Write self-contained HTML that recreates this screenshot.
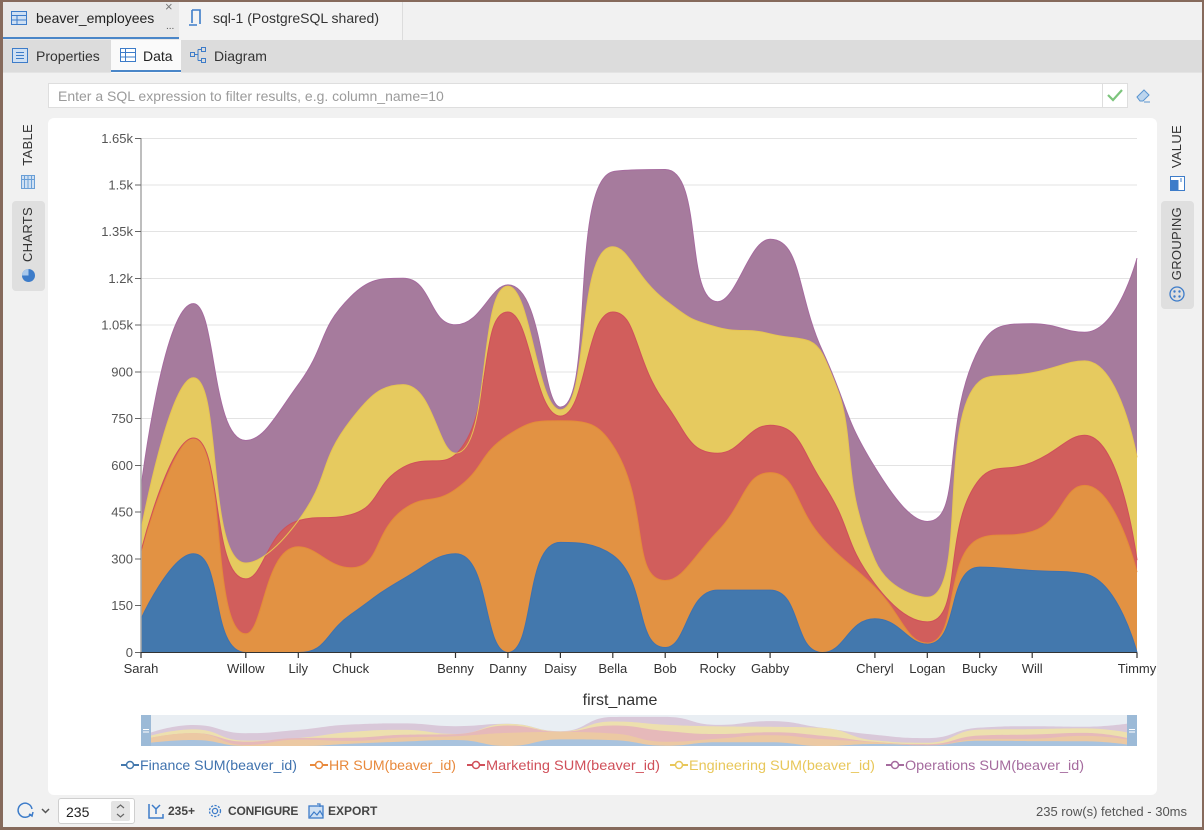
<!DOCTYPE html>
<html><head><meta charset="utf-8">
<style>
*{margin:0;padding:0;box-sizing:border-box}
body{width:1204px;height:830px;overflow:hidden;background:#f1f1f1;font-family:"Liberation Sans",sans-serif;position:relative;color:#333}
.a{position:absolute}
.vt{position:absolute;writing-mode:vertical-rl;transform:rotate(180deg);font-size:13px;color:#333;letter-spacing:0.3px}
.bt{position:absolute;font-size:12px;font-weight:bold;color:#454545;top:804px}
</style></head><body>

<!-- tab bar -->
<div class="a" style="left:0;top:0;width:1204px;height:40px;background:#f1f1f1"></div>
<div class="a" style="left:3px;top:2px;width:176px;height:38px;background:#e8e8e8"></div>
<div class="a" style="left:3px;top:37px;width:176px;height:2px;background:#4a86c8"></div>
<div class="a" style="left:179px;top:2px;width:224px;height:38px;background:#f3f3f3;border-right:1px solid #dcdcdc"></div>
<svg class="a" style="left:11px;top:11px" width="16" height="14"><rect x="0.5" y="0.5" width="15" height="13" fill="#cfe0f3" stroke="#3d7cc9"/><line x1="0" y1="4.5" x2="16" y2="4.5" stroke="#3d7cc9"/><line x1="0" y1="9" x2="16" y2="9" stroke="#3d7cc9"/><line x1="6" y1="4" x2="6" y2="14" stroke="#3d7cc9"/></svg>
<div class="a" style="left:36px;top:10px;font-size:14px;color:#222">beaver_employees</div>
<div class="a" style="left:165px;top:-1px;font-size:13px;color:#777">×</div>
<div class="a" style="left:166px;top:21px;font-size:10px;color:#555">...</div>
<svg class="a" style="left:188px;top:9px" width="14" height="18"><path d="M4 1 H12 V15 M1 16 H9 M4 1 V14" fill="none" stroke="#3d7cc9" stroke-width="1.6"/></svg>
<div class="a" style="left:213px;top:10px;font-size:14px;color:#333">sql-1 (PostgreSQL shared)</div>

<!-- sub tab row -->
<div class="a" style="left:0;top:40px;width:1204px;height:33px;background:#dcdcdc;border-bottom:1px solid #e4e4e4"></div>
<div class="a" style="left:111px;top:40px;width:70px;height:33px;background:#fafafa"></div>
<div class="a" style="left:111px;top:70px;width:70px;height:2px;background:#4a86c8"></div>
<svg class="a" style="left:12px;top:48px" width="16" height="15"><rect x="0.5" y="0.5" width="15" height="14" fill="#cfe0f3" stroke="#3d7cc9"/><path d="M4 4.5H12M4 7.5H12M4 10.5H12" stroke="#3d7cc9"/></svg>
<div class="a" style="left:36px;top:48px;font-size:14px;color:#333">Properties</div>
<svg class="a" style="left:120px;top:48px" width="16" height="14"><rect x="0.5" y="0.5" width="15" height="13" fill="#fff" stroke="#3d7cc9"/><path d="M0 4.5H16M0 9H16M5.5 0V14" stroke="#3d7cc9"/></svg>
<div class="a" style="left:143px;top:48px;font-size:14px;color:#222">Data</div>
<svg class="a" style="left:190px;top:47px" width="17" height="17"><rect x="0.5" y="5.5" width="4" height="4" fill="none" stroke="#3d7cc9"/><rect x="11.5" y="0.5" width="4" height="4" fill="none" stroke="#3d7cc9"/><rect x="11.5" y="11.5" width="4" height="4" fill="none" stroke="#3d7cc9"/><path d="M4.5 7.5H8M8 2.5V13.5M8 2.5H11.5M8 13.5H11.5" fill="none" stroke="#3d7cc9"/></svg>
<div class="a" style="left:214px;top:48px;font-size:14px;color:#333">Diagram</div>

<!-- filter -->
<div class="a" style="left:48px;top:83px;width:1055px;height:25px;background:#fff;border:1px solid #dedede"></div>
<div class="a" style="left:58px;top:88px;font-size:14px;color:#9b9b9b">Enter a SQL expression to filter results, e.g. column_name=10</div>
<div class="a" style="left:1102px;top:83px;width:26px;height:25px;background:#fff;border:1px solid #dedede"></div>
<svg class="a" style="left:1106px;top:88px" width="18" height="14"><path d="M2 7 L7 12 L16 2" fill="none" stroke="#7cc47c" stroke-width="2.2"/></svg>
<svg class="a" style="left:1134px;top:86px" width="18" height="18"><path d="M3 11 L10 4 L15 9 L9 15 L6 15 Z" fill="#bcd5ee" stroke="#5a95d0" stroke-width="1"/><path d="M10 16H16" stroke="#5a95d0"/></svg>

<!-- left vertical tabs -->
<div class="vt" style="left:20px;top:124px">TABLE</div>
<svg class="a" style="left:21px;top:175px" width="14" height="14"><rect x="0.5" y="0.5" width="13" height="13" fill="#cfe0f3" stroke="#6a9fd6"/><path d="M0 4.5H14M3.5 0V14M7 0V14M10.5 0V14" stroke="#6a9fd6"/></svg>
<div class="a" style="left:12px;top:201px;width:33px;height:90px;background:#dfdfdf;border-radius:4px"></div>
<div class="vt" style="left:20px;top:207px">CHARTS</div>
<svg class="a" style="left:21px;top:268px" width="15" height="15"><circle cx="7.5" cy="7.5" r="6.5" fill="#3d7cc9"/><path d="M7.5 7.5 V1 A6.5 6.5 0 0 0 1 7.5 Z" fill="#a9c9ec"/></svg>

<!-- right vertical tabs -->
<div class="vt" style="left:1169px;top:125px">VALUE</div>
<svg class="a" style="left:1170px;top:176px" width="15" height="15"><rect x="0.5" y="0.5" width="14" height="14" fill="#fff" stroke="#3d7cc9"/><rect x="0.5" y="4" width="8" height="10.5" fill="#3d7cc9"/><path d="M11 2V6" stroke="#3d7cc9"/></svg>
<div class="a" style="left:1161px;top:201px;width:33px;height:108px;background:#dfdfdf;border-radius:4px"></div>
<div class="vt" style="left:1169px;top:207px">GROUPING</div>
<svg class="a" style="left:1169px;top:286px" width="16" height="16"><circle cx="8" cy="8" r="7" fill="none" stroke="#3d7cc9" stroke-width="1.3"/><circle cx="5.5" cy="5.5" r="1.2" fill="#3d7cc9"/><circle cx="10.5" cy="5.5" r="1.2" fill="#3d7cc9"/><circle cx="5.5" cy="10.5" r="1.2" fill="#3d7cc9"/><circle cx="10.5" cy="10.5" r="1.2" fill="#3d7cc9"/></svg>

<!-- chart panel -->
<div class="a" style="left:48px;top:118px;width:1109px;height:677px;background:#fff;border-radius:6px"></div>

<svg class="a" style="left:0;top:0" width="1204" height="830" id="ch">
<g stroke="#e3e3e3" stroke-width="1">
<line x1="141" x2="1137" y1="138.5" y2="138.5"/><line x1="141" x2="1137" y1="185" y2="185"/><line x1="141" x2="1137" y1="231.5" y2="231.5"/><line x1="141" x2="1137" y1="278.5" y2="278.5"/><line x1="141" x2="1137" y1="325" y2="325"/><line x1="141" x2="1137" y1="372" y2="372"/><line x1="141" x2="1137" y1="418.5" y2="418.5"/><line x1="141" x2="1137" y1="465.5" y2="465.5"/><line x1="141" x2="1137" y1="512" y2="512"/><line x1="141" x2="1137" y1="559" y2="559"/><line x1="141" x2="1137" y1="605.5" y2="605.5"/>
</g>
<g id="areas"></g>
<line x1="141" x2="141" y1="138" y2="653" stroke="#a8a8a8" stroke-width="1.5"/>
<line x1="141" x2="1137" y1="652.5" y2="652.5" stroke="#333" stroke-width="1"/>
<g stroke="#666" stroke-width="1">
<line x1="135" x2="141" y1="138.5" y2="138.5"/><line x1="135" x2="141" y1="185" y2="185"/><line x1="135" x2="141" y1="231.5" y2="231.5"/><line x1="135" x2="141" y1="278.5" y2="278.5"/><line x1="135" x2="141" y1="325" y2="325"/><line x1="135" x2="141" y1="372" y2="372"/><line x1="135" x2="141" y1="418.5" y2="418.5"/><line x1="135" x2="141" y1="465.5" y2="465.5"/><line x1="135" x2="141" y1="512" y2="512"/><line x1="135" x2="141" y1="559" y2="559"/><line x1="135" x2="141" y1="605.5" y2="605.5"/><line x1="135" x2="141" y1="652.5" y2="652.5"/>
</g>
<g font-family="Liberation Sans, sans-serif" font-size="13" fill="#555" text-anchor="end">
<text x="133" y="143">1.65k</text><text x="133" y="189.5">1.5k</text><text x="133" y="236">1.35k</text><text x="133" y="283">1.2k</text><text x="133" y="329.5">1.05k</text><text x="133" y="376.5">900</text><text x="133" y="423">750</text><text x="133" y="470">600</text><text x="133" y="516.5">450</text><text x="133" y="563.5">300</text><text x="133" y="610">150</text><text x="133" y="657">0</text>
</g>
<g id="xt" stroke="#333" stroke-width="1.2"></g>
<g id="xl" font-family="Liberation Sans, sans-serif" font-size="13" fill="#333" text-anchor="middle"></g>
<text x="620" y="705" font-family="Liberation Sans, sans-serif" font-size="16" fill="#333" text-anchor="middle">first_name</text>

<!-- data zoom -->
<rect x="141" y="715" width="996" height="31" fill="#e9eef3"/>
<g id="mini"></g>
<rect x="141" y="715" width="10" height="31" fill="#9cbad7"/>
<rect x="1127" y="715" width="10" height="31" fill="#9cbad7"/>
<path d="M143 729.5H149M143 732H149M1129 729.5H1135M1129 732H1135" stroke="#fff" stroke-width="1"/>

<!-- legend -->
<g font-family="Liberation Sans, sans-serif" font-size="14">
<line x1="121" x2="139" y1="765" y2="765" stroke="#4378ad" stroke-width="2"/><circle cx="130" cy="765" r="3.5" fill="#fff" stroke="#4378ad" stroke-width="1.5"/>
<text x="140" y="770" fill="#3f72ae" textLength="157" lengthAdjust="spacingAndGlyphs">Finance SUM(beaver_id)</text>
<line x1="310" x2="328" y1="765" y2="765" stroke="#e8893c" stroke-width="2"/><circle cx="319" cy="765" r="3.5" fill="#fff" stroke="#e8893c" stroke-width="1.5"/>
<text x="329" y="770" fill="#e8893c" textLength="127" lengthAdjust="spacingAndGlyphs">HR SUM(beaver_id)</text>
<line x1="467" x2="485" y1="765" y2="765" stroke="#d0505a" stroke-width="2"/><circle cx="476" cy="765" r="3.5" fill="#fff" stroke="#d0505a" stroke-width="1.5"/>
<text x="486" y="770" fill="#d0505a" textLength="174" lengthAdjust="spacingAndGlyphs">Marketing SUM(beaver_id)</text>
<line x1="670" x2="688" y1="765" y2="765" stroke="#e8c75a" stroke-width="2"/><circle cx="679" cy="765" r="3.5" fill="#fff" stroke="#e8c75a" stroke-width="1.5"/>
<text x="689" y="770" fill="#e8c75a" textLength="186" lengthAdjust="spacingAndGlyphs">Engineering SUM(beaver_id)</text>
<line x1="886" x2="904" y1="765" y2="765" stroke="#a56b9e" stroke-width="2"/><circle cx="895" cy="765" r="3.5" fill="#fff" stroke="#a56b9e" stroke-width="1.5"/>
<text x="905" y="770" fill="#a56b9e" textLength="179" lengthAdjust="spacingAndGlyphs">Operations SUM(beaver_id)</text>
</g>
</svg>

<!-- bottom bar -->
<svg class="a" style="left:17px;top:802px" width="18" height="18"><path d="M14 12 A7 7 0 1 1 15 7" fill="none" stroke="#3d7cc9" stroke-width="1.5"/><path d="M12 12 L15 14 L16 10" fill="none" stroke="#3d7cc9" stroke-width="1.5"/></svg>
<svg class="a" style="left:41px;top:808px" width="9" height="6"><path d="M1 1 L4.5 4.5 L8 1" fill="none" stroke="#555" stroke-width="1.5"/></svg>
<div class="a" style="left:58px;top:798px;width:77px;height:26px;background:#fff;border:1px solid #cfcfcf;border-radius:3px"></div>
<div class="a" style="left:66px;top:804px;font-size:14px;color:#222">235</div>
<div class="a" style="left:111px;top:801px;width:19px;height:20px;background:#e4e4e4;border-radius:2px"></div>
<svg class="a" style="left:115px;top:803px" width="11" height="16"><path d="M2 5 L5.5 2 L9 5 M2 11 L5.5 14 L9 11" fill="none" stroke="#666" stroke-width="1.2"/></svg>
<svg class="a" style="left:148px;top:803px" width="16" height="16"><path d="M1 1V15H15V11M1 15" fill="none" stroke="#3d7cc9" stroke-width="1.5"/><path d="M4 2 L8 6 L12 2 M8 6 V11" fill="none" stroke="#3d7cc9" stroke-width="1.5"/></svg>
<div class="bt" style="left:168px">235+</div>
<svg class="a" style="left:207px;top:803px" width="16" height="16"><circle cx="8" cy="8" r="2.6" fill="none" stroke="#3d7cc9" stroke-width="1.3"/><circle cx="8" cy="8" r="5.5" fill="none" stroke="#3d7cc9" stroke-width="1.3" stroke-dasharray="2.2 1.4"/></svg>
<div class="bt" style="left:228px;letter-spacing:-0.2px">CONFIGURE</div>
<svg class="a" style="left:308px;top:803px" width="16" height="16"><rect x="1" y="3" width="14" height="12" fill="#cfe0f3" stroke="#3d7cc9" stroke-width="1.3"/><path d="M2 14 L6 9 L9 12 L12 8 L15 13" fill="none" stroke="#3d7cc9" stroke-width="1.2"/><path d="M9 1 L12 1 L12 4" fill="none" stroke="#3d7cc9" stroke-width="1.2"/></svg>
<div class="bt" style="left:328px">EXPORT</div>
<div class="a" style="left:1036px;top:804px;font-size:13px;color:#555">235 row(s) fetched - 30ms</div>

<!-- window border -->
<div class="a" style="left:0;top:0;width:1204px;height:830px;border:2px solid #866a5c;border-left-width:3px;border-bottom-width:3px;pointer-events:none"></div>

<script>
(function(){
var F=[108,317,0,0,122,236,317,0,353,312,16,200,200,0,108,27,274,263,252,0];
var H=[217,371,60,339,150,222,206,697,390,352,215,188,377,366,101,3,92,125,284,258];
var M=[0,0,176,84,170,136,112,395,15,428,569,251,152,179,11,68,190,222,161,38];
var E=[68,193,51,0,303,265,4,83,20,209,330,404,293,412,76,79,314,287,238,330];
var O=[136,238,393,436,396,341,412,4,9,241,419,82,303,10,298,243,108,157,92,639];
var series=[F,H,M,E,O];
var fills=["#4378ad","#e29243","#d15e5c","#e6ca5f","#a67b9d"];
var strokes=["#3f72ae","#e48a3a","#d0505a","#e6c452","#a56b9e"];
var miniF=["#a9c3de","#ecc9a3","#e6b9ba","#ede0ae","#d9c8d9"];
var N=20, x0=141, dx=(1137-141)/19;
function X(i){return x0+i*dx;}
var cum=[],acc=new Array(N).fill(0);
for(var s=0;s<5;s++){acc=acc.map(function(v,i){return v+series[s][i];});cum.push(acc.slice());}
function sp(pts){
  var sm=0.5,d='M'+pts[0][0].toFixed(1)+','+pts[0][1].toFixed(1);
  var c0x=pts[0][0],c0y=pts[0][1];
  for(var i=1;i<pts.length;i++){
    var x=pts[i][0],y=pts[i][1],px=pts[i-1][0],py=pts[i-1][1],c1x,c1y,nx0=x,ny0=y;
    if(i===pts.length-1){c1x=x;c1y=y;}
    else{
      var nx=pts[i+1][0],ny=pts[i+1][1];
      var vx=nx-px,vy=ny-py;
      var lp=Math.hypot(x-px,y-py),ln=Math.hypot(nx-x,ny-y);
      var r=ln/(ln+lp);
      nx0=x+vx*sm*r;ny0=y+vy*sm*r;
      nx0=Math.min(nx0,Math.max(nx,x));ny0=Math.min(ny0,Math.max(ny,y));
      nx0=Math.max(nx0,Math.min(nx,x));ny0=Math.max(ny0,Math.min(ny,y));
      vx=nx0-x;vy=ny0-y;
      c1x=x-vx*lp/ln;c1y=y-vy*lp/ln;
      c1x=Math.min(c1x,Math.max(px,x));c1y=Math.min(c1y,Math.max(py,y));
      c1x=Math.max(c1x,Math.min(px,x));c1y=Math.max(c1y,Math.min(py,y));
      vx=x-c1x;vy=y-c1y;
      nx0=x+vx*ln/lp;ny0=y+vy*ln/lp;
    }
    d+=' C'+[c0x,c0y,c1x,c1y,x,y].map(function(v){return v.toFixed(1);}).join(',');
    c0x=nx0;c0y=ny0;
  }
  return d;
}
var base=652.5,k=514.5/1650;
var html='';
for(var s2=4;s2>=0;s2--){
  var pts=cum[s2].map(function(v,i){return [X(i),base-v*k];});
  var d=sp(pts);
  html+='<path d="'+d+' L1137,'+base+' L141,'+base+' Z" fill="'+fills[s2]+'"/>';
}
for(var s3=0;s3<5;s3++){
  var pts2=cum[s3].map(function(v,i){return [X(i),base-v*k];});
  html+='<path d="'+sp(pts2)+'" fill="none" stroke="'+strokes[s3]+'" stroke-width="1"/>';
}
document.getElementById('areas').innerHTML=html;
var mb=746,mk=0.0188,mh='';
for(var s4=4;s4>=0;s4--){
  var pts3=cum[s4].map(function(v,i){return [X(i),mb-v*mk];});
  mh+='<path d="'+sp(pts3)+' L1137,'+mb+' L141,'+mb+' Z" fill="'+miniF[s4]+'"/>';
}
document.getElementById('mini').innerHTML=mh;
var labels={0:"Sarah",2:"Willow",3:"Lily",4:"Chuck",6:"Benny",7:"Danny",8:"Daisy",9:"Bella",10:"Bob",11:"Rocky",12:"Gabby",14:"Cheryl",15:"Logan",16:"Bucky",17:"Will",19:"Timmy"};
var t='',l='';
for(var i in labels){var xx=X(+i).toFixed(1);t+='<line x1="'+xx+'" x2="'+xx+'" y1="652.5" y2="658"/>';l+='<text x="'+xx+'" y="673">'+labels[i]+'</text>';}
document.getElementById('xt').innerHTML=t;
document.getElementById('xl').innerHTML=l;
})();
</script>
</body></html>
